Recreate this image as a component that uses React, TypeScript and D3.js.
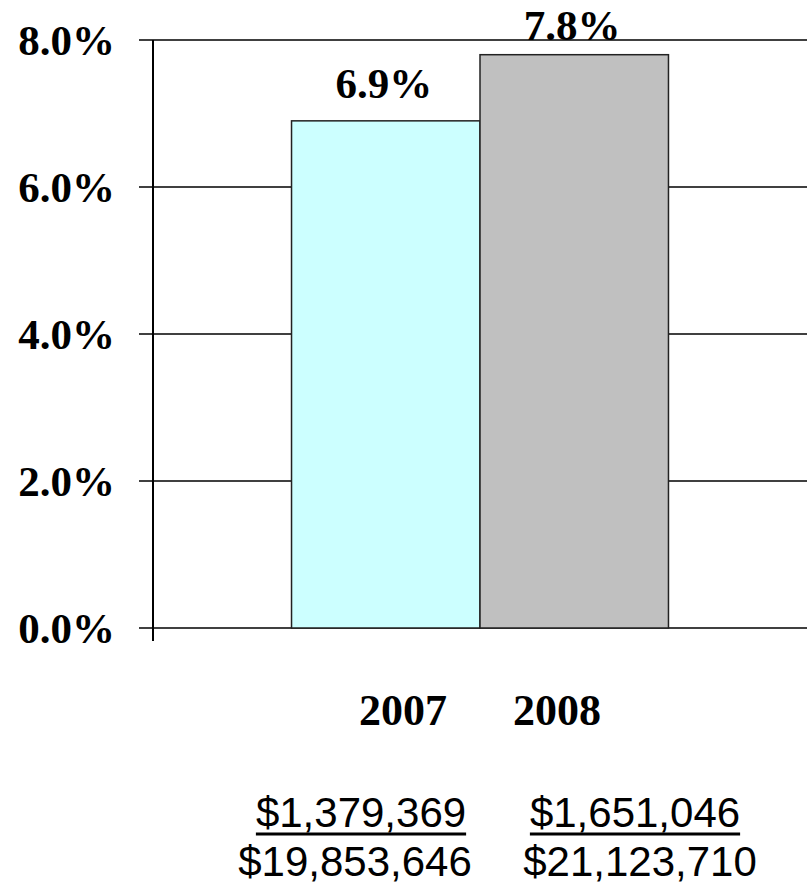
import React, { useEffect, useRef } from "react";
import * as d3 from "d3";

const categories = ["2007", "2008"];
const rates = [6.9, 7.8];
const rateLabels = ["6.9%", "7.8%"];
const barColors = ["#CCFFFF", "#C0C0C0"];
const yTicks = [0, 2, 4, 6, 8];
const amounts = ["$1,379,369", "$1,651,046"];
const totals = ["$19,853,646", "$21,123,710"];

const W = 807;
const H = 887;
const SERIF = "'Liberation Serif', 'Times New Roman', serif";
const SANS = "'Liberation Sans', Arial, sans-serif";

const App: React.FC = () => {
  const ref = useRef<SVGSVGElement>(null);

  useEffect(() => {
    const svg = d3.select(ref.current);
    svg.selectAll("*").remove();

    const left = 153, right = 807, top = 40, bottom = 628;

    const x = d3.scaleBand()
      .domain(categories)
      .range([left, right])
      .paddingInner(0)
      .paddingOuter(0.735);

    const y = d3.scaleLinear().domain([0, 8]).range([bottom, top]);

    // gridlines with left ticks
    svg.append("g")
      .selectAll("line")
      .data(yTicks)
      .enter()
      .append("line")
      .attr("x1", left - 14)
      .attr("x2", right)
      .attr("y1", d => y(d))
      .attr("y2", d => y(d))
      .attr("stroke", "#000")
      .attr("stroke-width", 1.5);

    // y tick labels
    svg.append("g")
      .selectAll("text")
      .data(yTicks)
      .enter()
      .append("text")
      .attr("x", 115)
      .attr("y", d => y(d) + 15)
      .attr("text-anchor", "end")
      .attr("font-family", SERIF)
      .attr("font-weight", "bold")
      .attr("font-size", 43)
      .text(d => d.toFixed(1) + "%");

    // bars
    svg.append("g")
      .selectAll("rect")
      .data(rates)
      .enter()
      .append("rect")
      .attr("x", (_, i) => x(categories[i])!)
      .attr("y", d => y(d))
      .attr("width", x.bandwidth())
      .attr("height", d => bottom - y(d))
      .attr("fill", (_, i) => barColors[i])
      .attr("stroke", "#222")
      .attr("stroke-width", 1.5);

    // value labels (kept inside the plot area, as in the original)
    svg.append("g")
      .selectAll("text")
      .data(rates)
      .enter()
      .append("text")
      .attr("x", (_, i) => x(categories[i])! + x.bandwidth() / 2 - 2)
      .attr("y", d => Math.max(y(d) - 23, top))
      .attr("text-anchor", "middle")
      .attr("font-family", SERIF)
      .attr("font-weight", "bold")
      .attr("font-size", 43)
      .text((_, i) => rateLabels[i]);

    // y axis
    svg.append("line")
      .attr("x1", left)
      .attr("x2", left)
      .attr("y1", top)
      .attr("y2", bottom + 13)
      .attr("stroke", "#000")
      .attr("stroke-width", 2);

    // category labels
    const catX = [403, 557];
    svg.append("g")
      .selectAll("text")
      .data(categories)
      .enter()
      .append("text")
      .attr("x", (_, i) => catX[i])
      .attr("y", 725)
      .attr("text-anchor", "middle")
      .attr("font-family", SERIF)
      .attr("font-weight", "bold")
      .attr("font-size", 44)
      .text(d => d);

    // amounts (underlined) and totals
    const amtX = [361, 635];
    const totX = [355, 640];
    const amtText = svg.append("g")
      .selectAll("text")
      .data(amounts)
      .enter()
      .append("text")
      .attr("x", (_, i) => amtX[i])
      .attr("y", 827)
      .attr("text-anchor", "middle")
      .attr("font-family", SANS)
      .attr("font-size", 42)
      .text(d => d);

    const underline = svg.append("g");
    amtText.each(function () {
      const b = (this as SVGTextElement).getBBox();
      underline.append("rect")
        .attr("x", b.x)
        .attr("y", 832.5)
        .attr("width", b.width)
        .attr("height", 3)
        .attr("fill", "#000");
    });

    svg.append("g")
      .selectAll("text")
      .data(totals)
      .enter()
      .append("text")
      .attr("x", (_, i) => totX[i])
      .attr("y", 876)
      .attr("text-anchor", "middle")
      .attr("font-family", SANS)
      .attr("font-size", 42)
      .text(d => d);
  }, []);

  return (
    <svg
      ref={ref}
      width={W}
      height={H}
      style={{ position: "absolute", left: 0, top: 0, background: "#fff" }}
    />
  );
};

export default App;
